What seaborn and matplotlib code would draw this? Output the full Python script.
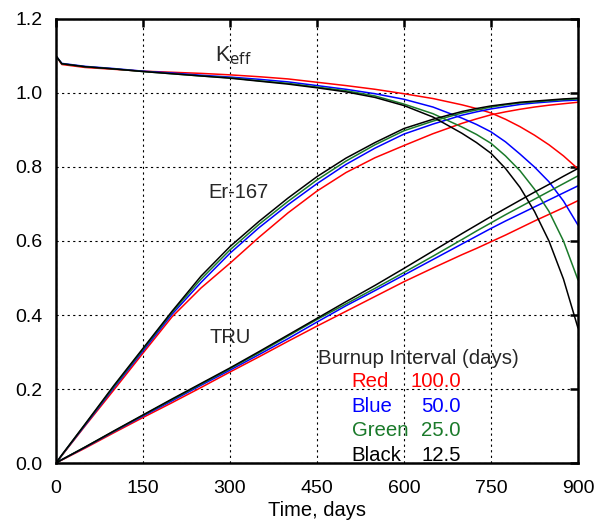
import numpy as np
import pandas as pd
import matplotlib
import seaborn as sns
import matplotlib.pyplot as plt

matplotlib.use('Agg')

# time grid (days)
days = [0, 10, 50, 100, 150, 200, 250, 300, 350, 400, 450, 500, 550,
        600, 650, 700, 725, 750, 775, 800, 825, 850, 875, 900]

# K-eff for each burnup interval
keff_red = [1.100, 1.077, 1.069, 1.064, 1.059, 1.056, 1.053, 1.049, 1.044, 1.038, 1.029, 1.020, 1.010,
            0.998, 0.985, 0.968, 0.958, 0.946, 0.929, 0.909, 0.886, 0.860, 0.830, 0.795]
keff_blue = [1.100, 1.080, 1.072, 1.066, 1.059, 1.054, 1.048, 1.043, 1.037, 1.030, 1.020, 1.010, 0.998,
             0.983, 0.962, 0.932, 0.915, 0.895, 0.868, 0.835, 0.800, 0.760, 0.708, 0.643]
keff_green = [1.100, 1.079, 1.071, 1.065, 1.058, 1.052, 1.046, 1.041, 1.033, 1.026, 1.016, 1.006, 0.992,
              0.970, 0.944, 0.908, 0.888, 0.864, 0.830, 0.790, 0.740, 0.680, 0.600, 0.495]
keff_black = [1.100, 1.079, 1.071, 1.065, 1.058, 1.052, 1.046, 1.040, 1.032, 1.024, 1.014, 1.003, 0.988,
              0.966, 0.935, 0.891, 0.866, 0.837, 0.796, 0.745, 0.680, 0.600, 0.497, 0.365]

# Er-167
er_red = [0.0, 0.020, 0.100, 0.198, 0.297, 0.395, 0.473, 0.540, 0.610, 0.676, 0.735, 0.785, 0.825,
          0.858, 0.890, 0.918, 0.930, 0.941, 0.949, 0.956, 0.962, 0.967, 0.971, 0.975]
er_blue = [0.0, 0.021, 0.102, 0.204, 0.303, 0.402, 0.488, 0.567, 0.636, 0.698, 0.755, 0.807, 0.851,
           0.889, 0.916, 0.940, 0.949, 0.957, 0.963, 0.969, 0.973, 0.976, 0.979, 0.981]
er_green = [0.0, 0.021, 0.104, 0.207, 0.307, 0.407, 0.497, 0.576, 0.645, 0.707, 0.765, 0.816, 0.860,
            0.898, 0.924, 0.946, 0.954, 0.962, 0.968, 0.973, 0.976, 0.979, 0.982, 0.984]
er_black = [0.0, 0.022, 0.105, 0.210, 0.310, 0.410, 0.505, 0.585, 0.653, 0.716, 0.774, 0.824, 0.866,
            0.904, 0.929, 0.950, 0.958, 0.965, 0.970, 0.975, 0.978, 0.981, 0.984, 0.986]

# TRU
tru_red = [0.0, 0.008, 0.040, 0.082, 0.123, 0.163, 0.204, 0.246, 0.287, 0.329, 0.370, 0.410, 0.450,
           0.490, 0.527, 0.563, 0.580, 0.598, 0.616, 0.635, 0.654, 0.672, 0.690, 0.709]
tru_blue = [0.0, 0.009, 0.042, 0.085, 0.127, 0.168, 0.210, 0.251, 0.293, 0.336, 0.381, 0.425, 0.466,
            0.508, 0.550, 0.592, 0.613, 0.634, 0.654, 0.673, 0.692, 0.711, 0.730, 0.749]
tru_green = [0.0, 0.009, 0.043, 0.086, 0.129, 0.171, 0.213, 0.255, 0.298, 0.343, 0.388, 0.430, 0.472,
             0.515, 0.559, 0.604, 0.627, 0.649, 0.671, 0.692, 0.713, 0.734, 0.755, 0.776]
tru_black = [0.0, 0.009, 0.043, 0.087, 0.130, 0.173, 0.215, 0.257, 0.301, 0.346, 0.391, 0.436, 0.480,
             0.526, 0.573, 0.620, 0.643, 0.666, 0.688, 0.710, 0.732, 0.753, 0.775, 0.796]

intervals = ["Red", "Blue", "Green", "Black"]
interval_days = ["100.0", "50.0", "25.0", "12.5"]
colors = {"Red": "#ff0000", "Blue": "#0000ff", "Green": "#1a7a2a", "Black": "#000000"}

series = {
    "Red": (keff_red, er_red, tru_red),
    "Blue": (keff_blue, er_blue, tru_blue),
    "Green": (keff_green, er_green, tru_green),
    "Black": (keff_black, er_black, tru_black),
}

sns.set_theme(style="white")
plt.rcParams['font.family'] = ['Liberation Sans', 'DejaVu Sans']

fig = plt.figure(figsize=(6.03, 5.23), dpi=100)
ax = fig.add_axes([0.0929, 0.1147, 0.8656, 0.849])

for name in intervals:
    for vals in series[name]:
        df = pd.DataFrame({"t": days, "v": vals})
        sns.lineplot(data=df, x="t", y="v", ax=ax, color=colors[name],
                     linewidth=1.1, estimator=None, sort=False)

ax.set_xlim(0, 900)
ax.set_ylim(0, 1.2)
ax.set_xticks([0, 150, 300, 450, 600, 750, 900])
ax.set_yticks([0.0, 0.2, 0.4, 0.6, 0.8, 1.0, 1.2])
ax.set_yticklabels([f"{v:.1f}" for v in [0.0, 0.2, 0.4, 0.6, 0.8, 1.0, 1.2]])
ax.grid(True, color="black", linestyle=(0, (2, 3)), linewidth=0.8)
ax.tick_params(direction="in", length=6, width=1.8, top=True, right=True,
               labelsize=14, colors="black")
ax.tick_params(axis="x", pad=12)
ax.tick_params(axis="y", pad=10)
for sp in ax.spines.values():
    sp.set_color("black")
    sp.set_linewidth(1.8)

ax.set_xlabel("Time, days", fontsize=14.5, color="black", labelpad=3)
ax.set_ylabel("")

# curve labels
ax.text(306, 1.10, "K$_{\\rm eff}$", fontsize=15.5, ha="center", va="center")
ax.text(314, 0.732, "Er-167", fontsize=14.5, ha="center", va="center")
ax.text(300, 0.338, "TRU", fontsize=14.5, ha="center", va="center")

# burnup interval legend
ax.text(452, 0.282, "Burnup Interval (days)", fontsize=14.7, ha="left", va="center")
for i, (name, d) in enumerate(zip(intervals, interval_days)):
    yy = 0.219 - i * 0.066
    ax.text(510, yy, name, fontsize=14.7, ha="left", va="center", color=colors[name])
    ax.text(698, yy, d, fontsize=14.7, ha="right", va="center", color=colors[name])

fig.savefig("out.png", dpi=100)
